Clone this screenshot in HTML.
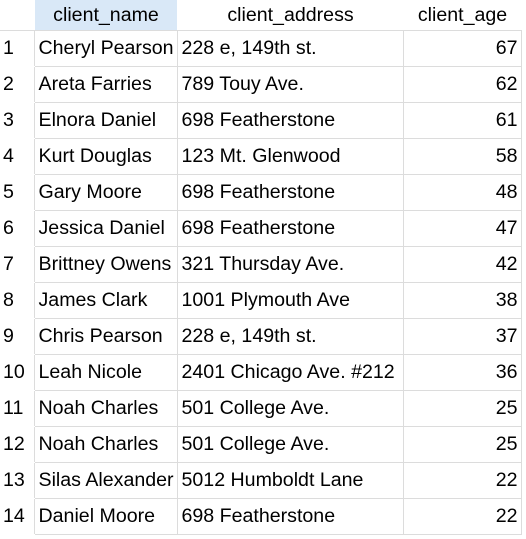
<!DOCTYPE html>
<html><head><meta charset="utf-8"><style>
html,body{margin:0;padding:0;background:#fff;width:526px;height:539px;overflow:hidden}
table{border-collapse:collapse;font-family:"Liberation Sans",sans-serif;font-size:19.6px;color:#000;position:absolute;left:0;top:0;table-layout:fixed;width:521px}
td,th{height:35px;padding:0 3px 0 4px;white-space:nowrap;font-weight:normal;border:1px solid #dcdcdc;line-height:35px;overflow:hidden;box-sizing:border-box}
th{height:30px;line-height:30px;border:none;border-right:1px solid transparent}
tr.h th{border-bottom:1px solid #dcdcdc}
th.sel{background:#d9e8f7}
td.n{border:none;border-bottom:1px solid transparent;text-align:left;padding-left:3px}
td.a{text-align:right;padding-right:3px}
</style></head><body>
<table>
<colgroup><col style="width:34px"><col style="width:143px"><col style="width:226px"><col style="width:118px"></colgroup>
<tr class="h"><th></th><th class="sel">client_name</th><th>client_address</th><th style="text-align:center">client_age</th></tr>
<tbody id="tb"></tbody>
</table>
<script>
const names=["Cheryl Pearson","Areta Farries","Elnora Daniel","Kurt Douglas","Gary Moore","Jessica Daniel","Brittney Owens","James Clark","Chris Pearson","Leah Nicole","Noah Charles","Noah Charles","Silas Alexander","Daniel Moore"];
const addrs=["228 e, 149th st.","789 Touy Ave.","698 Featherstone","123 Mt. Glenwood","698 Featherstone","698 Featherstone","321 Thursday Ave.","1001 Plymouth Ave","228 e, 149th st.","2401 Chicago Ave. #212","501 College Ave.","501 College Ave.","5012 Humboldt Lane","698 Featherstone"];
const ages=[67,62,61,58,48,47,42,38,37,36,25,25,22,22];
const tb=document.getElementById('tb');
names.forEach((n,i)=>{
  const tr=document.createElement('tr');
  
  
  const vals=[i+1,n,addrs[i],ages[i]];
  const cls=['n','','','a'];
  const nm=['row-number','client-name-cell','client-address-cell','client-age-cell'];
  vals.forEach((v,j)=>{
    const td=document.createElement('td');
    td.textContent=v;
    if(cls[j])td.className=cls[j];
    
    
    tr.appendChild(td);
  });
  tb.appendChild(tr);
});
</script>
</body></html>
